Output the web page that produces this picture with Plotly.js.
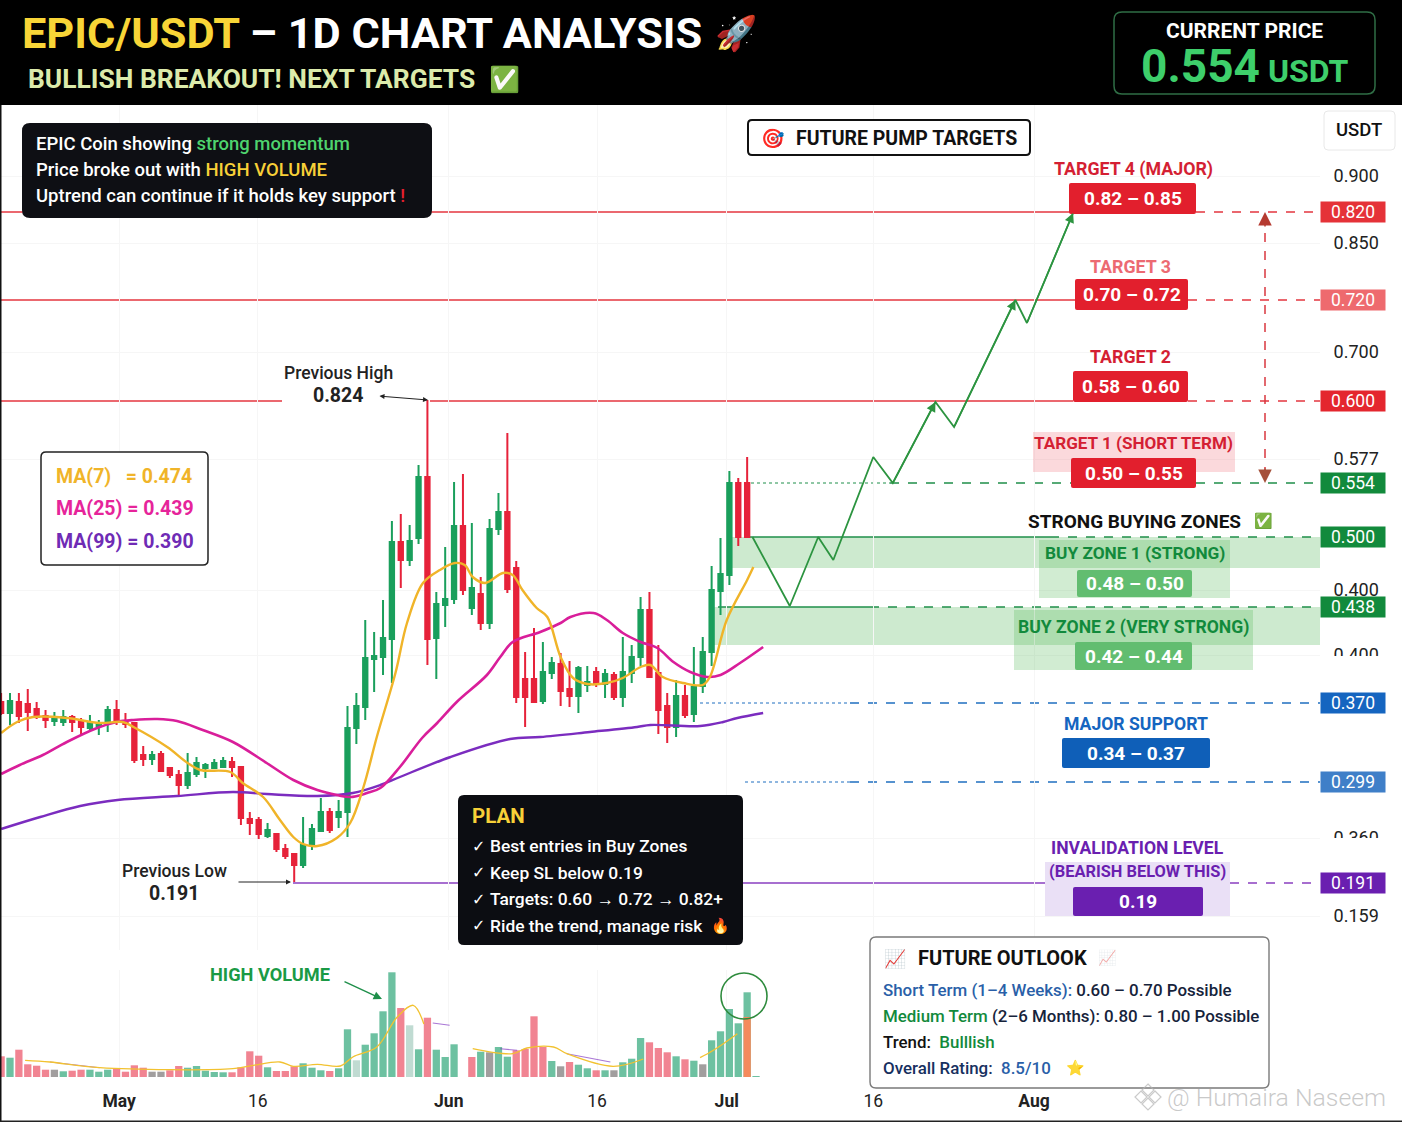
<!DOCTYPE html>
<html><head><meta charset="utf-8">
<script src="https://cdn.plot.ly/plotly-3.0.1.min.js"></script>
<style>html,body{margin:0;padding:0;background:#fff}#chart{width:1402px;height:1122px}</style>
</head><body><div id="chart"></div>
<script>
// ---------- chart values ----------
const opens=[.335,.324,.335,.333,.328,.321,.316,.315,.320,.316,.309,.311,.314,.327,.315,.314,.282,.278,.283,.269,.262,.252,.263,.269,.269,.270,.275,.270,.218,.217,.201,.203,.188,.183,.172,.192,.206,.225,.220,.225,.309,.330,.378,.380,.398,.495,.477,.499,.560,.399,.432,.438,.511,.429,.443,.414,.508,.525,.469,.358,.358,.336,.364,.373,.348,.341,.352,.365,.353,.362,.340,.364,.380,.427,.364,.331,.310,.341,.323,.351,.385,.446,.462,.554,.554];
const closes=[.324,.336,.321,.325,.320,.317,.320,.320,.315,.310,.314,.314,.327,.315,.313,.277,.278,.282,.266,.262,.252,.264,.274,.272,.274,.276,.270,.219,.214,.203,.207,.188,.181,.172,.192,.208,.225,.207,.225,.309,.331,.379,.381,.399,.495,.477,.496,.560,.398,.433,.438,.511,.447,.449,.414,.508,.525,.448,.340,.340,.335,.365,.374,.346,.341,.369,.355,.353,.363,.340,.365,.380,.427,.360,.327,.310,.341,.322,.350,.385,.447,.463,.554,.500,.500];
const highs=[.344,.344,.344,.348,.335,.327,.325,.327,.322,.319,.322,.317,.331,.337,.324,.315,.291,.286,.286,.270,.267,.284,.280,.274,.278,.280,.280,.271,.225,.220,.214,.204,.193,.184,.220,.213,.239,.229,.237,.331,.344,.417,.405,.437,.516,.523,.512,.572,.637,.445,.490,.555,.563,.514,.460,.518,.544,.604,.476,.385,.409,.395,.380,.384,.376,.371,.371,.370,.368,.365,.400,.392,.440,.445,.392,.344,.357,.352,.390,.400,.471,.499,.566,.559,.580];
const lows=[.322,.312,.314,.306,.318,.309,.311,.311,.305,.302,.307,.302,.305,.312,.309,.274,.271,.272,.265,.259,.240,.248,.260,.259,.268,.269,.260,.212,.202,.198,.199,.185,.178,.155,.169,.187,.205,.204,.209,.200,.293,.317,.345,.362,.354,.449,.471,.493,.372,.358,.410,.433,.442,.422,.407,.408,.502,.444,.334,.310,.334,.333,.358,.331,.330,.324,.345,.350,.339,.337,.330,.354,.371,.360,.303,.294,.300,.319,.315,.344,.371,.422,.452,.491,.500];

const volumes=[20.7,19.3,27.3,12.7,11.3,7.3,7.3,5.7,6.3,7.3,7.3,5.3,7.3,9,5.3,11.7,9.3,5.3,5.3,6.7,11,9.3,11,6.3,5,4.7,4.7,9.7,25.7,21.3,9.7,6,6,10.7,13.7,9.3,6.7,6,8.7,47.7,16.7,32.3,43.7,65.7,104.7,69,51.7,27.7,59.3,27.3,20,32.7,null,20,25.3,24.7,30,20.3,26.7,28,60.7,30,16,10.7,15,12.3,8.7,6.7,6.7,6.7,14.7,18.3,39,34.7,29,24.7,20.7,17.7,16.3,12.7,36.7,45.7,68,53.7,84.7,1];
const volumeKinds=["r","g","r","r","r","r","n","g","r","r","g","g","g","r","r","r","r","n","n","r","r","g","g","g","g","g","r","r","r","r","g","r","r","r","g","g","g","r","g","g","l","g","g","g","g","r","l","g","r","g","g","g","n","r","g","n","g","g","r","r","r","r","g","n","r","g","g","r","g","n","g","g","g","r","r","r","g","r","g","n","g","g","g","g","g","g"];
const lastBarOrange=60;
const volumeMaS=[2.7,5.5,11.1,26.1,28.4,31.4,32.9,35.6,38.2,39.6,42.3,44.6,46.4,47.6,null,53.1,57.6,59.2,62.2,63.7,68.9,72.3,null,78.7,80.2,82.9];
const volumeMaV=[16.7,15,9.3,8.3,11.7,15,10.7,12.7,11,20,30,60,71.7,53,null,28.3,23.3,29,30,23.3,10.7,18,null,19.3,26.7,43.3];
const volumeMa2S=[5.5,11.1,null,48.6,50.5,null,56.2,58.1,null,63.7,68.6];
const volumeMa2V=[15,9.3,null,54,51.7,null,28.3,26.7,null,23.3,15];

const ma7S=[0,1.8,3.6,7.4,11.1,13.7,14.9,18.7,21,22.4,25.8,27.2,29.5,31.4,32.9,34,35.6,37.8,39.3,40.8,42.3,44.4,45.7,47.5,49.4,51.1,52.2,53.1,54.5,56.5,57.6,58.7,60.3,61.5,63,64.4,66,68.2,70,72,73.1,74.5,76.8,79,79.8,81.7,84,84.7];
const ma7V=[.304,.315,.320,.319,.314,.315,.310,.290,.274,.267,.265,.254,.240,.217,.200,.193,.191,.199,.214,.250,.300,.364,.414,.454,.467,.474,.472,.460,.454,.464,.462,.447,.429,.420,.380,.359,.353,.354,.359,.370,.372,.360,.354,.352,.360,.417,.457,.470];
const ma25S=[0,2.1,4.7,7.4,10.8,13,14.9,17.6,19.8,22.7,26.1,29.9,32.9,35.6,37.8,39.3,41.2,42.7,44.9,47.4,49.1,51.3,54.7,56.2,57.6,60.7,63,64.1,66.7,68.2,70,72,73.9,75.7,77.6,79.5,81,83.2,85.8];
const ma25V=[.263,.272,.282,.295,.309,.315,.317,.318,.316,.307,.295,.274,.257,.247,.242,.240,.244,.249,.270,.299,.314,.335,.362,.380,.395,.405,.414,.420,.424,.417,.404,.395,.389,.375,.365,.360,.362,.374,.390];
const ma99S=[0,4.4,8.9,13.1,19.8,26.1,29.9,35.6,39.6,42.7,44.9,50.6,57.3,60.7,66.3,71.6,73.1,78.7,81.3,82.9,85.8];
const ma99V=[.208,.220,.231,.237,.241,.245,.243,.241,.244,.252,.260,.280,.298,.300,.305,.310,.312,.311,.315,.319,.324];
const pathS=[84.6,88.8,92,93.7,98.2,100.4,105.2,107.3,114.2,115.5,120.7];
const pathV=[.500,.431,.500,.477,.580,.554,.635,.610,.737,.714,.824];

const levelValues=[.825,.737,.636,.554,.500,.430,.334,.255,.154];
const levelLabels=["0.820","0.720","0.600","0.554","0.500","0.438","0.370","0.299","0.191"];
const yTickValues=[.861,.794,.685,.578,.447,.382,.199,.121];
const yTickLabels=["0.900","0.850","0.700","0.577","0.400","0.400","0.360","0.159"];
const xTickValues=[13.3,28.9,50.4,67.1,81.7,98.2,116.3];
const xTickLabels=["<b>May</b>","16","<b>Jun</b>","16","<b>Jul</b>","16","<b>Aug</b>"];

// ---------- helpers ----------
const FONT="Roboto, 'Noto Sans', sans-serif";
const W=1402,H=1122;
const fx=p=>p/W, fy=p=>1-p/H;
const GREEN="#1a9f5c",RED="#e6223a",BLUE="#1565c0",PURPLE="#6a1fb0",DKGREEN="#128a3c";
const annos=[],shapes=[];
function T(x,y,text,size,color,o={}){
  const {w,...rest}=o; const left=rest.xanchor==='left';
  annos.push(Object.assign({xref:'paper',yref:'paper',x:fx(left?x-2:x),y:fy(y),text,showarrow:false,
  font:{family:FONT,size,color,weight:w||400},xanchor:'center',yanchor:'middle',align:'center'},rest));}
function rr(x0,y0,x1,y1,r,fill,line,lw,layer){
  const X=a=>fx(a),Y=a=>fy(a);
  const d=`M${X(x0+r)},${Y(y0)} L${X(x1-r)},${Y(y0)} Q${X(x1)},${Y(y0)} ${X(x1)},${Y(y0+r)} L${X(x1)},${Y(y1-r)} Q${X(x1)},${Y(y1)} ${X(x1-r)},${Y(y1)} L${X(x0+r)},${Y(y1)} Q${X(x0)},${Y(y1)} ${X(x0)},${Y(y1-r)} L${X(x0)},${Y(y0+r)} Q${X(x0)},${Y(y0)} ${X(x0+r)},${Y(y0)} Z`;
  shapes.push({type:'path',xref:'paper',yref:'paper',path:d,fillcolor:fill,line:{color:line||fill,width:lw===undefined?0:lw},layer:layer||'above'});
}
function rect(x0,y0,x1,y1,fill,layer){shapes.push({type:'rect',xref:'paper',yref:'paper',x0:fx(x0),x1:fx(x1),y0:fy(y0),y1:fy(y1),fillcolor:fill,line:{width:0},layer:layer||'above'});}
function seg(x0,x1,v,color,dash,w){shapes.push({type:'line',xref:'paper',yref:'y',x0:fx(x0),x1:fx(x1),y0:v,y1:v,line:{color,width:w||1.6,dash:dash||'solid'},layer:'below'});}
function arrow(x,y,ax,ay,color,o={}){annos.push(Object.assign({xref:'paper',yref:'paper',x:fx(x),y:fy(y),ax:ax-x,ay:ay-y,axref:'pixel',ayref:'pixel',text:'',showarrow:true,arrowcolor:color,arrowwidth:1.3,arrowhead:2,arrowsize:1.2},o));}

// zones + level lines
rect(732,537,1320,568,'rgba(90,185,95,0.30)','below');
rect(713,607,1320,645,'rgba(90,185,95,0.30)','below');
const C=levelValues;
seg(0,1070,C[0],'#e4363f');seg(1196,1320,C[0],'#e4363f','dash');
seg(0,1075,C[1],'#e4363f');seg(1188,1320,C[1],'#e4363f','dash');
seg(0,282,C[2],'#e4363f');seg(430,1073,C[2],'#e4363f');seg(1188,1320,C[2],'#e4363f','dash');
seg(745,890,C[3],'#1f8f4a','dot',1);seg(890,1320,C[3],'#1f8f4a','dash');
seg(745,1050,C[4],'#1f8f4a');seg(1050,1320,C[4],'#1f8f4a','dash');
seg(718,870,C[5],'#1f8f4a');seg(870,1320,C[5],'#1f8f4a','dash');
seg(700,850,C[6],'#1f6fc0','dot',1);seg(850,1320,C[6],'#1f6fc0','dash');
seg(745,850,C[7],'#1f6fc0','dot',1);seg(850,1320,C[7],'#1f6fc0','dash');
seg(293,1045,C[8],'#8a3fc0');seg(1230,1320,C[8],'#8a3fc0','dash');

// level flags
const flagCols=['#e53238','#ee6a6e','#e4262e',DKGREEN,DKGREEN,DKGREEN,BLUE,'#3f7fc8',PURPLE];
levelLabels.forEach((l,i)=>annos.push({xref:'paper',yref:'y',x:fx(1353),y:levelValues[i],text:l,showarrow:false,width:62,height:18,bgcolor:flagCols[i],
  font:{family:FONT,size:17.5,color:'#fff'},xanchor:'center',yanchor:'middle'}));

// header
rect(0,0,W,105,'#000000');
T(22,33,'<b><span style="color:#f8d537">EPIC/USDT</span> – 1D CHART ANALYSIS</b>',43.3,'#fff',{xanchor:'left'});
T(736,33,'🚀',34,'#fff');
T(28,79,'<b>BULLISH BREAKOUT! NEXT TARGETS</b>',26.4,'#dcebab',{xanchor:'left'});
T(504,79,'✅',25,'#22c55e');
rr(1114,12,1375,94,8,'#000','#2f6d45',1.5);
T(1244,31,'<b>CURRENT PRICE</b>',21,'#fff');
T(1244,66,'<b><span style="font-size:46px">0.554</span> USDT</b>',32,'#3ecf6b');

// USDT box
rr(1324,111,1395,150,4,'#fff','#e8e8e8',1);
T(1359,130,'USDT',18.5,'#111',{w:500});
// half-hidden tick labels
rect(1322,656,1400,672,'#fff');
rect(1322,838,1400,852,'#fff');

// info box
rr(22,123,432,218,8,'#0e0f14');
T(36,144,'EPIC Coin showing <span style="color:#4fd36e">strong momentum</span>',18.5,'#fff',{xanchor:'left',w:500});
T(36,170,'Price broke out with <span style="color:#f7d038">HIGH VOLUME</span>',18.5,'#fff',{xanchor:'left',w:500});
T(36,196,'Uptrend can continue if it holds key support <span style="color:#e6202f">!</span>',18.5,'#fff',{xanchor:'left',w:500});

// future pump targets
rr(748,120,1030,155,4,'#fff','#111',2);
T(773,138,'🎯',19,'#e6202f');
T(796,138,'<b>FUTURE PUMP TARGETS</b>',19.5,'#111',{xanchor:'left'});

// targets
const TR='#d41f33',BOXR='#e21f2d';
function tbox(x0,y0,x1,y1,col,txt,fc){rr(x0,y0,x1,y1,2,col);T((x0+x1)/2,(y0+y1)/2,'<b>'+txt+'</b>',19,fc||'#fff');}
T(1133,169,'<b>TARGET 4 (MAJOR)</b>',17.8,TR);tbox(1069,183,1196,214,BOXR,'0.82 – 0.85');
T(1130,266,'<b>TARGET 3</b>',17.8,'#ec6a72');tbox(1075,279,1188,310,BOXR,'0.70 – 0.72');
T(1130,357,'<b>TARGET 2</b>',17.8,TR);tbox(1073,371,1188,402,BOXR,'0.58 – 0.60');
rect(1033,432,1235,472,'rgba(240,120,130,0.28)');
T(1133,443,'<b>TARGET 1 (SHORT TERM)</b>',17.1,TR);tbox(1071,458,1196,488,BOXR,'0.50 – 0.55');
T(1134,521,'<b>STRONG BUYING ZONES</b>',19,'#111');T(1263,521,'✅',15,'#22c55e');
rect(1039,540,1230,598,'rgba(90,185,95,0.28)');
T(1135,553,'<b>BUY ZONE 1 (STRONG)</b>',17.3,DKGREEN);tbox(1077,570,1192,597,'#62bd70','0.48 – 0.50');
rect(1014,610,1253,670,'rgba(90,185,95,0.28)');
T(1133,627,'<b>BUY ZONE 2 (VERY STRONG)</b>',17.6,DKGREEN);tbox(1075,642,1192,670,'#62bd70','0.42 – 0.44');
T(1136,724,'<b>MAJOR SUPPORT</b>',17.6,BLUE);tbox(1062,738,1210,768,'#0f5fb8','0.34 – 0.37');
rect(1045,862,1230,916,'rgba(150,100,210,0.2)');
T(1137,848,'<b>INVALIDATION LEVEL</b>',17.6,PURPLE);
T(1137,871,'<b>(BEARISH BELOW THIS)</b>',16.4,PURPLE);tbox(1073,887,1203,916,'#6a1fb0','0.19');

// vertical double arrow
shapes.push({type:'line',xref:'paper',yref:'paper',x0:fx(1265),x1:fx(1265),y0:fy(215),y1:fy(480),line:{color:'#d9373f',width:1.5,dash:'dash'},layer:'above'});
arrow(1265,212,1265,228,'#b53a30',{arrowwidth:1.5,arrowhead:2,arrowsize:1.8});
arrow(1265,483,1265,467,'#a5503a',{arrowwidth:1.5,arrowhead:2,arrowsize:1.8});

// previous high / low
T(338,373,'Previous High',17.5,'#222',{bgcolor:'#fff',w:500});
T(338,395,'<b>0.824</b>',19.5,'#222',{bgcolor:'#fff'});
arrow(428,400,378,396,'#222',{arrowside:'end+start',arrowsize:1,arrowwidth:1});
T(174,871,'Previous Low',17.5,'#222',{w:500});
T(174,893,'<b>0.191</b>',19.5,'#222');
arrow(291,882,237,882,'#222',{arrowsize:1,arrowwidth:1});

// MA box
rr(41,452,208,565,5,'#fff','#222',1.5);
T(56,476,'<b>MA(7)\u00a0\u00a0\u00a0= 0.474</b>',19.5,'#f0b429',{xanchor:'left'});
T(56,509,'<b>MA(25) = 0.439</b>',19.5,'#e6249a',{xanchor:'left'});
T(56,541,'<b>MA(99) = 0.390</b>',19.5,'#6f2bb5',{xanchor:'left'});

// plan
rr(458,795,743,945,6,'#0c0d12');
T(472,816,'<b>PLAN</b>',20.5,'#f7d038',{xanchor:'left'});
['Best entries in Buy Zones','Keep SL below 0.19','Targets: 0.60 → 0.72 → 0.82+','Ride the trend, manage risk'].forEach((t,i)=>{
  T(472,846+i*26.6,'<b>✓</b>',17,'#fff',{xanchor:'left',font:{family:'DejaVu Sans',size:16,color:'#fff'}});
  T(490,846+i*26.6,t,17.4,'#fff',{xanchor:'left',w:500});});
T(720,926,'🔥',15,'#e63');

// high volume
T(270,974,'<b>HIGH VOLUME</b>',18.2,'#1a9a45');
arrow(382,999,343,981,'#1f8f4a',{arrowwidth:1.4});
shapes.push({type:'circle',xref:'paper',yref:'paper',x0:fx(721),x1:fx(767),y0:fy(973),y1:fy(1019),line:{color:'#2e8b3d',width:1.6},layer:'above'});

// outlook
rr(870,937,1269,1088,6,'#fff','#7a7a7a',1.4);
T(895,958,'📈',18,'#d33');
T(918,958,'<b>FUTURE OUTLOOK</b>',20,'#111',{xanchor:'left'});
T(1107,958,'📈',15,'#8aa',{opacity:0.45});
T(883,990,'<span style="color:#2a5fa8">Short Term (1–4 Weeks):</span> 0.60 – 0.70 Possible',16.9,'#16233b',{xanchor:'left',w:500});
T(883,1016,'<span style="color:#128a3c">Medium Term</span> (2–6 Months): 0.80 – 1.00 Possible',16.9,'#16233b',{xanchor:'left',w:500});
T(883,1042,'Trend:  <span style="color:#128a3c">Bulllish</span>',16.9,'#111',{xanchor:'left',w:500});
T(883,1068,'Overall Rating:  <span style="color:#2a5fa8">8.5/10</span>',16.9,'#17305f',{xanchor:'left',w:500});
T(1075,1068,'⭐',15,'#fc0');

// watermark
const wmd=(cx,cy,r)=>`M${fx(cx)},${fy(cy-r)} L${fx(cx+r)},${fy(cy)} L${fx(cx)},${fy(cy+r)} L${fx(cx-r)},${fy(cy)} Z`;
[[1148,1090,6],[1141,1097,6],[1155,1097,6],[1148,1104,6]].forEach(([a,b,c])=>shapes.push({type:'path',xref:'paper',yref:'paper',path:wmd(a,b,c),fillcolor:'rgba(0,0,0,0)',line:{color:'rgba(180,180,180,0.7)',width:1.2},layer:'above'}));
T(1167,1097,'@ Humaira Naseem',24.8,'rgba(165,165,165,0.6)',{xanchor:'left',w:300});

// page edges
rect(0,105,1.5,H,'#111');
rect(0,1120.5,W,H,'#222');

// ---------- traces ----------
const sess=opens.map((_,i)=>i);
const volX=volumes.map((_,i)=>i);
const volCol={r:'rgba(235,80,100,0.7)',g:'rgba(30,160,110,0.65)',n:'rgba(130,125,125,0.75)',l:'rgba(150,195,180,0.6)'};
const traces=[
 {type:'candlestick',x:sess,open:opens,high:highs,low:lows,close:closes,width:0.72,whiskerwidth:0,
  increasing:{line:{color:GREEN,width:2},fillcolor:GREEN},decreasing:{line:{color:RED,width:2},fillcolor:RED},hoverinfo:'skip',showlegend:false},
 {type:'scatter',mode:'lines',x:ma99S,y:ma99V,line:{color:'#7b2cbf',width:2.4,shape:'spline'},hoverinfo:'skip',showlegend:false},
 {type:'scatter',mode:'lines',x:ma25S,y:ma25V,line:{color:'#d91e9a',width:2.6,shape:'spline'},hoverinfo:'skip',showlegend:false},
 {type:'scatter',mode:'lines',x:ma7S,y:ma7V,line:{color:'#f0b429',width:2.4,shape:'spline'},hoverinfo:'skip',showlegend:false},
 {type:'scatter',mode:'lines',x:pathS,y:pathV,line:{color:'#2c9440',width:1.8},hoverinfo:'skip',showlegend:false},
 {type:'bar',x:volX,y:volumes,yaxis:'y2',width:0.82,marker:{color:volumeKinds.map(k=>volCol[k]),line:{width:0}},hoverinfo:'skip',showlegend:false},
 {type:'bar',x:[volX[volX.length-2]],y:[lastBarOrange],yaxis:'y2',width:0.82,marker:{color:'#f58a5c',line:{width:0}},hoverinfo:'skip',showlegend:false},
 {type:'scatter',mode:'lines',x:volumeMa2S,y:volumeMa2V,yaxis:'y2',line:{color:'rgba(123,44,191,0.65)',width:1.1,shape:'spline'},connectgaps:false,hoverinfo:'skip',showlegend:false},
 {type:'scatter',mode:'lines',x:volumeMaS,y:volumeMaV,yaxis:'y2',line:{color:'#f2c230',width:1.3,shape:'spline'},connectgaps:false,hoverinfo:'skip',showlegend:false},
];
// chevrons at the peaks of the projected path
[[6,5],[8,7],[10,9]].forEach(([a,b])=>annos.push({xref:'x',yref:'y',x:pathS[a],y:pathV[a],ax:pathS[b],ay:pathV[b],axref:'x',ayref:'y',text:'',showarrow:true,arrowcolor:'#2c9440',arrowwidth:1.6,arrowhead:2,arrowsize:1.2}));

const layout={width:W,height:H,margin:{l:0,r:0,t:0,b:0,pad:0},paper_bgcolor:'#fff',plot_bgcolor:'#fff',showlegend:false,barmode:'overlay',
 font:{family:FONT},
 xaxis:{domain:[0,1320/W],range:[-0.126,148.5],rangeslider:{visible:false},tickmode:'array',tickvals:xTickValues,ticktext:xTickLabels,
   ticks:'outside',ticklen:8,tickcolor:'rgba(0,0,0,0)',tickfont:{family:FONT,size:17.5,color:'#222'},showgrid:true,gridcolor:'#f6f6f6',zeroline:false,showline:false,anchor:'y2'},
 yaxis:{domain:[fy(950),fy(105)],range:[.087,.932],side:'right',anchor:'x',tickmode:'array',tickvals:yTickValues,ticktext:yTickLabels,
   ticks:'outside',ticklen:9,tickcolor:'rgba(0,0,0,0)',tickfont:{family:FONT,size:18,color:'#222'},showgrid:true,gridcolor:'#f6f6f6',zeroline:false,showline:false},
 yaxis2:{domain:[fy(1077),fy(970)],range:[0,107],visible:false,anchor:'x'},
 shapes,annotations:annos};
Plotly.newPlot('chart',traces,layout,{staticPlot:true,displayModeBar:false});
</script></body></html>
